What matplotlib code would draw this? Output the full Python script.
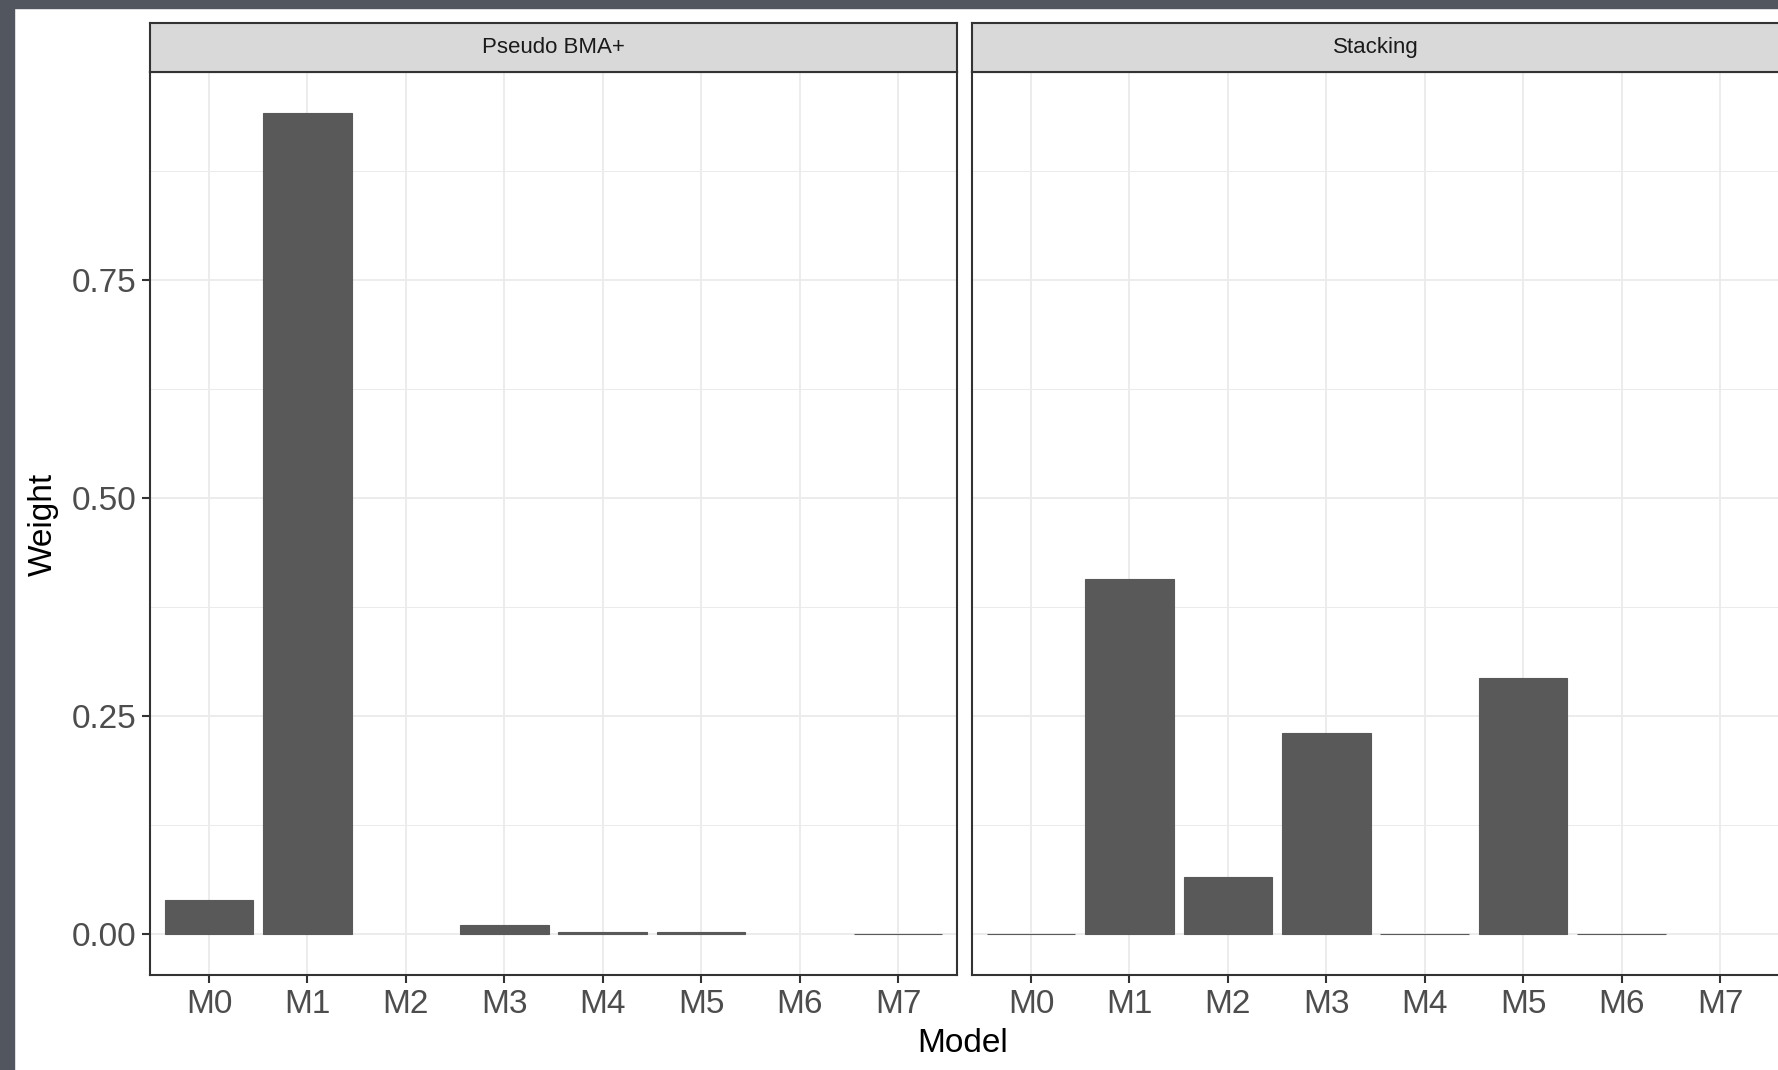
import matplotlib
matplotlib.use("Agg")
import matplotlib.pyplot as plt
from matplotlib.patches import Rectangle
from matplotlib.ticker import MultipleLocator

plt.rcParams['font.family'] = ['Liberation Sans', 'DejaVu Sans']

models = ["M0", "M1", "M2", "M3", "M4", "M5", "M6", "M7"]
panels = ["Pseudo BMA+", "Stacking"]
pseudo_bma = [0.039, 0.941, 0.0, 0.0107, 0.0023, 0.0023, 0.0, 0.0005]
stacking = [0.0003, 0.407, 0.0648, 0.230, 0.0003, 0.293, 0.0003, 0.0]
weights = [pseudo_bma, stacking]

W, H = 1778, 1070
fig = plt.figure(figsize=(W / 100, H / 100), dpi=100)
fig.patch.set_facecolor("white")

# dark frame of the screenshot (top and left)
fig.patches.append(Rectangle((0, 1 - 8 / H), 1, 8 / H, transform=fig.transFigure,
                             color="#52565f", zorder=0))
fig.patches.append(Rectangle((0, 0), 14 / W, 1, transform=fig.transFigure,
                             color="#52565f", zorder=0))


def px_box(x0, y0, x1, y1):
    return [x0 / W, 1 - y1 / H, (x1 - x0) / W, (y1 - y0) / H]


ymax = max(max(pseudo_bma), max(stacking))
ylim = (-0.05 * ymax, 1.05 * ymax)
xs = list(range(len(models)))
edge = "#333333"

for i, (x0, x1) in enumerate([(150, 957), (972, 1779)]):
    ax = fig.add_axes(px_box(x0, 72, x1, 975))
    # tiny non-zero weights still show as a thin line, as in the original
    for x, v in zip(xs, weights[i]):
        if v > 0:
            ax.bar(x, v, width=0.9, color="#595959", edgecolor="#595959",
                   linewidth=0.8, zorder=3)
    ax.set_xlim(-0.6, len(models) - 0.4)
    ax.set_ylim(*ylim)
    ax.set_xticks(xs)
    ax.set_xticklabels(models)
    ax.yaxis.set_major_locator(MultipleLocator(0.25))
    ax.yaxis.set_minor_locator(MultipleLocator(0.125))
    ax.grid(which="major", color="#ebebeb", linewidth=1.3, zorder=0)
    ax.grid(which="minor", axis="y", color="#ebebeb", linewidth=0.7, zorder=0)
    ax.set_axisbelow(True)
    for s in ax.spines.values():
        s.set_color(edge)
        s.set_linewidth(1.5)
    ax.tick_params(axis="both", which="major", length=6, width=1.5, color=edge,
                   labelsize=24, labelcolor="#4d4d4d", pad=4)
    ax.tick_params(axis="y", which="minor", length=0)
    if i == 0:
        ax.set_yticks([0, 0.25, 0.5, 0.75])
        ax.set_yticklabels(["0.00", "0.25", "0.50", "0.75"])
    else:
        ax.tick_params(axis="y", which="both", left=False, labelleft=False)

    strip = fig.add_axes(px_box(x0, 23, x1, 72))
    strip.set_facecolor("#d9d9d9")
    strip.set_xticks([])
    strip.set_yticks([])
    for s in strip.spines.values():
        s.set_color(edge)
        s.set_linewidth(1.5)
    strip.text(0.5, 0.5, panels[i], ha="center", va="center", fontsize=16,
               color="#1a1a1a", transform=strip.transAxes)

fig.text(43 / W, 1 - 524 / H, "Weight", rotation=90, ha="center", va="center",
         fontsize=24, color="black")
fig.text(963 / W, 1 - 1044 / H, "Model", ha="center", va="center",
         fontsize=24, color="black")

fig.savefig("out.png", dpi=100)
